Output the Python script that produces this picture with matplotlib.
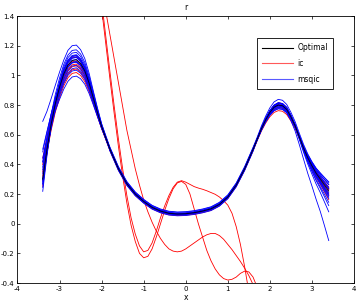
import matplotlib
matplotlib.use("Agg")
import matplotlib.pyplot as plt
from matplotlib.lines import Line2D
from matplotlib.ticker import FixedLocator, FuncFormatter

# x sampling of the fitted curves
x_vals = [-3.4, -3.3, -3.2, -3.1, -3.0, -2.9, -2.8, -2.7, -2.6, -2.5, -2.4, -2.3, -2.2, -2.1, -2.0,
          -1.8, -1.6, -1.4, -1.2, -1.0, -0.8, -0.6, -0.4, -0.2, 0.0, 0.2, 0.4, 0.6, 0.8, 1.0, 1.2, 1.4, 1.6,
          1.7, 1.8, 1.9, 2.0, 2.1, 2.2, 2.3, 2.4, 2.5, 2.6, 2.7, 2.8, 2.9, 3.0, 3.1, 3.2, 3.3, 3.4]

optimal = ([0.30, 0.50, 0.67, 0.81, 0.92, 1.01, 1.07, 1.10, 1.105, 1.08, 1.03, 0.95, 0.85, 0.75, 0.655]
           + [0.50, 0.37, 0.27, 0.20, 0.15, 0.11, 0.085, 0.07, 0.065, 0.067, 0.074, 0.085, 0.10, 0.13, 0.18, 0.26, 0.37, 0.50]
           + [0.57, 0.64, 0.70, 0.75, 0.785, 0.80, 0.795, 0.77, 0.72, 0.66, 0.585, 0.51, 0.445, 0.39, 0.34, 0.30, 0.26, 0.22])

ic_near = [
    [0.29, 0.477, 0.63, 0.753, 0.848, 0.929, 0.984, 1.013, 1.019, 0.999, 0.958, 0.893, 0.81, 0.724, 0.64]
    + [0.498, 0.368, 0.268, 0.198, 0.148, 0.108, 0.083, 0.068, 0.063, 0.065, 0.072, 0.083, 0.098, 0.128, 0.178, 0.258, 0.368, 0.498]
    + [0.568, 0.638, 0.698, 0.748, 0.783, 0.798, 0.793, 0.768, 0.718, 0.659, 0.584, 0.51, 0.446, 0.392, 0.343, 0.305, 0.266, 0.228],
    [0.399, 0.552, 0.686, 0.799, 0.891, 0.971, 1.029, 1.058, 1.064, 1.041, 0.996, 0.924, 0.833, 0.74, 0.651]
    + [0.503, 0.373, 0.273, 0.203, 0.153, 0.113, 0.088, 0.073, 0.068, 0.07, 0.077, 0.088, 0.103, 0.133, 0.183, 0.263, 0.373, 0.503]
    + [0.571, 0.64, 0.698, 0.746, 0.779, 0.793, 0.788, 0.764, 0.716, 0.657, 0.582, 0.507, 0.441, 0.385, 0.333, 0.29, 0.247, 0.203],
    [0.252, 0.475, 0.663, 0.816, 0.934, 1.029, 1.09, 1.12, 1.125, 1.099, 1.046, 0.963, 0.859, 0.756, 0.658]
    + [0.50, 0.37, 0.27, 0.20, 0.15, 0.11, 0.085, 0.07, 0.065, 0.067, 0.074, 0.085, 0.10, 0.13, 0.18, 0.26, 0.37, 0.50]
    + [0.573, 0.645, 0.708, 0.761, 0.799, 0.815, 0.81, 0.783, 0.73, 0.666, 0.587, 0.507, 0.438, 0.378, 0.324, 0.281, 0.235, 0.19],
    [0.348, 0.524, 0.674, 0.799, 0.899, 0.983, 1.041, 1.071, 1.076, 1.053, 1.006, 0.932, 0.838, 0.743, 0.652]
    + [0.501, 0.371, 0.271, 0.201, 0.151, 0.111, 0.086, 0.071, 0.066, 0.068, 0.075, 0.086, 0.101, 0.131, 0.181, 0.261, 0.371, 0.501]
    + [0.567, 0.634, 0.69, 0.736, 0.768, 0.781, 0.777, 0.753, 0.707, 0.651, 0.58, 0.51, 0.449, 0.397, 0.349, 0.311, 0.273, 0.236],
    [0.441, 0.584, 0.714, 0.827, 0.921, 1.003, 1.062, 1.092, 1.097, 1.073, 1.024, 0.946, 0.848, 0.749, 0.656]
    + [0.502, 0.372, 0.272, 0.202, 0.152, 0.112, 0.087, 0.072, 0.067, 0.069, 0.076, 0.087, 0.102, 0.132, 0.182, 0.262, 0.372, 0.502]
    + [0.573, 0.644, 0.705, 0.757, 0.793, 0.808, 0.803, 0.777, 0.725, 0.661, 0.582, 0.501, 0.429, 0.368, 0.311, 0.263, 0.213, 0.162],
    [0.321, 0.50, 0.65, 0.773, 0.87, 0.951, 1.008, 1.037, 1.043, 1.021, 0.978, 0.908, 0.82, 0.73, 0.643]
    + [0.49, 0.36, 0.26, 0.19, 0.14, 0.10, 0.075, 0.06, 0.055, 0.057, 0.064, 0.075, 0.09, 0.12, 0.17, 0.25, 0.36, 0.49]
    + [0.56, 0.625, 0.678, 0.721, 0.75, 0.762, 0.758, 0.736, 0.693, 0.64, 0.573, 0.505, 0.447, 0.399, 0.353, 0.317, 0.282, 0.247],
]

# divergent ic runs
x_div = [-2.2, -2.1, -2.0, -1.9, -1.8, -1.7, -1.6, -1.5, -1.4, -1.3, -1.2, -1.1, -1.0, -0.9, -0.8, -0.7, -0.6,
         -0.5, -0.4, -0.3, -0.2, -0.1, 0.0, 0.1, 0.2, 0.3, 0.4, 0.5, 0.6, 0.7, 0.8, 0.9, 1.0, 1.1, 1.2, 1.3,
         1.4, 1.5, 1.6, 1.7, 1.8]
ic_div = [
    [1.98, 1.74, 1.50, 1.26, 1.02, 0.79, 0.57, 0.37, 0.19, 0.04, -0.07, -0.15, -0.19, -0.18, -0.13, -0.05, 0.04,
     0.12, 0.19, 0.245, 0.28, 0.29, 0.28, 0.265, 0.25, 0.24, 0.232, 0.222, 0.21, 0.198, 0.18, 0.155, 0.125, 0.07,
     -0.02, -0.14, -0.29, -0.46, -0.65, -0.85, -1.05],
    [1.93, 1.69, 1.45, 1.21, 0.97, 0.74, 0.52, 0.32, 0.14, -0.01, -0.12, -0.20, -0.23, -0.22, -0.17, -0.09, 0.0,
     0.09, 0.17, 0.235, 0.275, 0.285, 0.265, 0.20, 0.10, 0.0, -0.09, -0.18, -0.25, -0.305, -0.345, -0.37, -0.38,
     -0.375, -0.36, -0.335, -0.32, -0.325, -0.36, -0.43, -0.55],
    [1.92, 1.76, 1.60, 1.43, 1.27, 1.11, 0.95, 0.79, 0.63, 0.50, 0.37, 0.26, 0.16, 0.08, 0.01, -0.05, -0.10,
     -0.14, -0.17, -0.185, -0.19, -0.185, -0.17, -0.15, -0.13, -0.11, -0.09, -0.075, -0.066, -0.066, -0.08, -0.105,
     -0.14, -0.175, -0.215, -0.255, -0.30, -0.35, -0.41, -0.50, -0.62],
]

msqic_curves = [
    [0.69, 0.757, 0.843, 0.934, 1.022, 1.103, 1.169, 1.20, 1.204, 1.173, 1.113, 1.017, 0.898, 0.782, 0.674]
    + [0.505, 0.375, 0.275, 0.205, 0.155, 0.115, 0.09, 0.075, 0.07, 0.072, 0.079, 0.09, 0.105, 0.135, 0.185, 0.265, 0.375, 0.505]
    + [0.577, 0.649, 0.711, 0.763, 0.799, 0.815, 0.81, 0.784, 0.732, 0.671, 0.595, 0.519, 0.454, 0.399, 0.35, 0.312, 0.273, 0.235],
    [0.295, 0.494, 0.662, 0.80, 0.908, 0.997, 1.056, 1.086, 1.091, 1.067, 1.018, 0.94, 0.842, 0.743, 0.65]
    + [0.496, 0.366, 0.266, 0.196, 0.146, 0.106, 0.081, 0.066, 0.061, 0.063, 0.07, 0.081, 0.096, 0.126, 0.176, 0.256, 0.366, 0.496]
    + [0.562, 0.629, 0.685, 0.731, 0.763, 0.776, 0.772, 0.748, 0.695, 0.625, 0.533, 0.436, 0.34, 0.254, 0.164, 0.081, -0.015, -0.114],
    [0.443, 0.565, 0.672, 0.762, 0.838, 0.907, 0.96, 0.989, 0.995, 0.977, 0.94, 0.879, 0.802, 0.722, 0.642]
    + [0.504, 0.374, 0.274, 0.204, 0.154, 0.114, 0.089, 0.074, 0.069, 0.071, 0.078, 0.089, 0.104, 0.134, 0.184, 0.264, 0.374, 0.504]
    + [0.568, 0.634, 0.688, 0.732, 0.761, 0.774, 0.77, 0.748, 0.703, 0.65, 0.582, 0.515, 0.458, 0.41, 0.365, 0.33, 0.297, 0.264],
    [0.218, 0.456, 0.656, 0.818, 0.943, 1.041, 1.104, 1.134, 1.139, 1.111, 1.057, 0.97, 0.862, 0.755, 0.655]
    + [0.488, 0.358, 0.258, 0.188, 0.138, 0.098, 0.073, 0.058, 0.053, 0.055, 0.062, 0.073, 0.088, 0.118, 0.168, 0.248, 0.358, 0.488]
    + [0.568, 0.641, 0.705, 0.759, 0.797, 0.814, 0.808, 0.782, 0.727, 0.661, 0.579, 0.494, 0.42, 0.356, 0.298, 0.248, 0.197, 0.144],
    [0.381, 0.546, 0.69, 0.812, 0.911, 0.994, 1.053, 1.083, 1.088, 1.064, 1.017, 0.94, 0.844, 0.747, 0.655]
    + [0.503, 0.373, 0.273, 0.203, 0.153, 0.113, 0.088, 0.073, 0.068, 0.07, 0.077, 0.088, 0.103, 0.133, 0.183, 0.263, 0.373, 0.503]
    + [0.573, 0.643, 0.703, 0.753, 0.788, 0.803, 0.798, 0.773, 0.724, 0.665, 0.593, 0.521, 0.46, 0.409, 0.364, 0.329, 0.296, 0.263],
    [0.265, 0.489, 0.68, 0.837, 0.959, 1.057, 1.12, 1.15, 1.155, 1.127, 1.071, 0.983, 0.873, 0.764, 0.663]
    + [0.50, 0.37, 0.27, 0.20, 0.15, 0.11, 0.085, 0.07, 0.065, 0.067, 0.074, 0.085, 0.10, 0.13, 0.18, 0.26, 0.37, 0.50]
    + [0.573, 0.645, 0.708, 0.761, 0.799, 0.815, 0.81, 0.783, 0.73, 0.666, 0.586, 0.505, 0.435, 0.374, 0.319, 0.274, 0.227, 0.18],
    [0.502, 0.622, 0.738, 0.842, 0.932, 1.012, 1.072, 1.102, 1.107, 1.082, 1.032, 0.952, 0.852, 0.752, 0.657]
    + [0.502, 0.372, 0.272, 0.202, 0.152, 0.112, 0.087, 0.072, 0.067, 0.069, 0.076, 0.087, 0.102, 0.132, 0.182, 0.262, 0.372, 0.502]
    + [0.569, 0.637, 0.694, 0.741, 0.773, 0.787, 0.782, 0.759, 0.712, 0.656, 0.588, 0.521, 0.464, 0.416, 0.373, 0.341, 0.311, 0.282],
    [0.335, 0.513, 0.665, 0.791, 0.891, 0.975, 1.033, 1.063, 1.068, 1.045, 0.999, 0.925, 0.832, 0.738, 0.648]
    + [0.498, 0.368, 0.268, 0.198, 0.148, 0.108, 0.083, 0.068, 0.063, 0.065, 0.072, 0.083, 0.098, 0.128, 0.178, 0.258, 0.368, 0.498]
    + [0.567, 0.636, 0.695, 0.744, 0.778, 0.793, 0.788, 0.764, 0.714, 0.654, 0.579, 0.503, 0.437, 0.38, 0.328, 0.285, 0.242, 0.198],
    [0.244, 0.471, 0.662, 0.818, 0.939, 1.034, 1.096, 1.126, 1.131, 1.104, 1.052, 0.967, 0.862, 0.758, 0.66]
    + [0.501, 0.371, 0.271, 0.201, 0.151, 0.111, 0.086, 0.071, 0.066, 0.068, 0.075, 0.086, 0.101, 0.131, 0.181, 0.261, 0.371, 0.501]
    + [0.573, 0.645, 0.707, 0.759, 0.795, 0.811, 0.806, 0.78, 0.728, 0.665, 0.586, 0.507, 0.438, 0.379, 0.325, 0.282, 0.236, 0.191],
    [0.419, 0.562, 0.688, 0.794, 0.882, 0.959, 1.016, 1.045, 1.051, 1.029, 0.986, 0.916, 0.828, 0.738, 0.651]
    + [0.511, 0.381, 0.281, 0.211, 0.161, 0.121, 0.096, 0.081, 0.076, 0.078, 0.085, 0.096, 0.111, 0.141, 0.191, 0.271, 0.381, 0.511]
    + [0.573, 0.642, 0.70, 0.748, 0.781, 0.795, 0.79, 0.766, 0.718, 0.661, 0.588, 0.517, 0.455, 0.403, 0.355, 0.318, 0.281, 0.245],
    [0.282, 0.492, 0.67, 0.817, 0.931, 1.024, 1.085, 1.115, 1.12, 1.094, 1.042, 0.96, 0.857, 0.754, 0.657]
    + [0.50, 0.37, 0.27, 0.20, 0.15, 0.11, 0.085, 0.07, 0.065, 0.067, 0.074, 0.085, 0.10, 0.13, 0.18, 0.26, 0.37, 0.50]
    + [0.57, 0.64, 0.70, 0.75, 0.785, 0.80, 0.795, 0.77, 0.719, 0.657, 0.579, 0.50, 0.43, 0.37, 0.314, 0.268, 0.219, 0.17],
    [0.363, 0.544, 0.704, 0.839, 0.948, 1.038, 1.10, 1.13, 1.135, 1.108, 1.055, 0.97, 0.864, 0.758, 0.66]
    + [0.50, 0.37, 0.27, 0.20, 0.15, 0.11, 0.085, 0.07, 0.065, 0.067, 0.074, 0.085, 0.10, 0.13, 0.18, 0.26, 0.37, 0.50]
    + [0.572, 0.644, 0.707, 0.759, 0.796, 0.812, 0.807, 0.781, 0.729, 0.666, 0.588, 0.511, 0.443, 0.386, 0.335, 0.294, 0.252, 0.21],
    [0.302, 0.488, 0.641, 0.765, 0.862, 0.944, 1.0, 1.029, 1.035, 1.014, 0.972, 0.904, 0.818, 0.729, 0.644]
    + [0.494, 0.364, 0.264, 0.194, 0.144, 0.104, 0.079, 0.064, 0.059, 0.061, 0.068, 0.079, 0.094, 0.124, 0.174, 0.254, 0.364, 0.494]
    + [0.566, 0.634, 0.691, 0.738, 0.77, 0.784, 0.779, 0.756, 0.708, 0.652, 0.58, 0.509, 0.447, 0.395, 0.347, 0.309, 0.271, 0.234],
    [0.484, 0.614, 0.738, 0.849, 0.943, 1.026, 1.087, 1.117, 1.122, 1.096, 1.044, 0.962, 0.859, 0.756, 0.659]
    + [0.502, 0.372, 0.272, 0.202, 0.152, 0.112, 0.087, 0.072, 0.067, 0.069, 0.076, 0.087, 0.102, 0.132, 0.182, 0.262, 0.372, 0.502]
    + [0.573, 0.645, 0.706, 0.757, 0.793, 0.809, 0.804, 0.778, 0.725, 0.66, 0.578, 0.494, 0.418, 0.352, 0.29, 0.237, 0.18, 0.122],
    [0.27, 0.482, 0.66, 0.806, 0.919, 0.999, 1.058, 1.088, 1.093, 1.069, 1.02, 0.942, 0.845, 0.75, 0.655]
    + [0.50, 0.37, 0.27, 0.20, 0.15, 0.11, 0.085, 0.07, 0.065, 0.067, 0.074, 0.085, 0.10, 0.13, 0.18, 0.26, 0.37, 0.50]
    + [0.57, 0.639, 0.699, 0.748, 0.783, 0.798, 0.793, 0.768, 0.716, 0.651, 0.568, 0.482, 0.403, 0.334, 0.267, 0.209, 0.145, 0.08],
    [0.414, 0.583, 0.738, 0.872, 0.982, 1.074, 1.137, 1.168, 1.172, 1.144, 1.087, 0.997, 0.885, 0.775, 0.672]
    + [0.514, 0.384, 0.284, 0.214, 0.164, 0.124, 0.099, 0.084, 0.079, 0.081, 0.088, 0.099, 0.114, 0.144, 0.194, 0.274, 0.384, 0.514]
    + [0.584, 0.659, 0.725, 0.781, 0.821, 0.838, 0.832, 0.804, 0.751, 0.688, 0.61, 0.535, 0.471, 0.418, 0.374, 0.341, 0.309, 0.278],
]

x_ticks = [-4, -3, -2, -1, 0, 1, 2, 3, 4]
y_ticks = [-0.4, -0.2, 0, 0.2, 0.4, 0.6, 0.8, 1, 1.2, 1.4]
legend_labels = ["Optimal", "ic", "msqic"]

plt.rcParams['font.family'] = ['DejaVu Sans']
plt.rcParams['axes.unicode_minus'] = False

fig = plt.figure(figsize=(3.6, 3.05), dpi=100)
ax = fig.add_axes([0.0486, 0.0721, 0.9347, 0.8754])

lw = 0.6
red = (1.0, 0.0, 0.0)
blue = (0.0, 0.0, 1.0)
for ys in ic_near:
    ax.plot(x_vals, ys, color=red, lw=lw)
for ys in ic_div:
    ax.plot(x_div, ys, color=red, lw=lw)
for ys in msqic_curves:
    ax.plot(x_vals, ys, color=blue, lw=lw)
ax.plot(x_vals, optimal, color='black', lw=lw)

ax.set_xlim(-4, 4)
ax.set_ylim(-0.4, 1.4)
ax.xaxis.set_major_locator(FixedLocator(x_ticks))
ax.yaxis.set_major_locator(FixedLocator(y_ticks))
ax.xaxis.set_major_formatter(FuncFormatter(lambda v, p: '%g' % v))
ax.yaxis.set_major_formatter(FuncFormatter(lambda v, p: '%g' % v))
ax.tick_params(direction='in', length=2.5, width=0.5, labelsize=5,
               top=True, right=True, pad=2, colors='black')
for s in ax.spines.values():
    s.set_linewidth(0.6)

ax.set_title('r', fontsize=5.5, pad=4)
ax.set_xlabel('x', fontsize=5.5, labelpad=1)

proxies = [Line2D([], [], color='black', lw=0.8),
           Line2D([], [], color=(1.0, 0.35, 0.35), lw=0.8),
           Line2D([], [], color=(0.35, 0.35, 1.0), lw=0.8)]
leg = ax.legend(proxies, legend_labels, loc='upper left',
                bbox_to_anchor=(0.712, 0.918), borderaxespad=0, fontsize=5.5,
                fancybox=False, framealpha=1, edgecolor='black',
                handlelength=4.0, handletextpad=0.6, labelspacing=0.9,
                borderpad=0.7)
leg.get_frame().set_linewidth(0.6)

fig.savefig('out.png', dpi=100)
